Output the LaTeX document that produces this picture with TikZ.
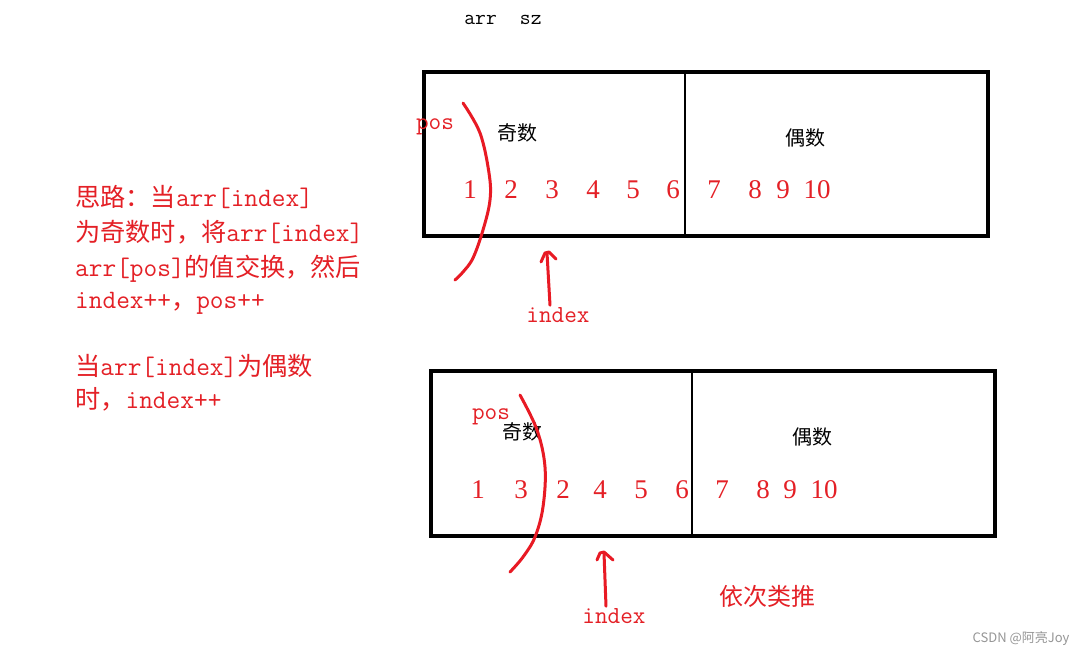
\documentclass[tikz,border=0pt]{standalone}
\usepackage{fontspec}
\setmainfont{Liberation Serif}
\setmonofont{Latin Modern Mono}
\newfontfamily\cjk{Noto Sans CJK SC}
\definecolor{myred}{RGB}{228,32,38}
\definecolor{penred}{RGB}{232,26,36}
\definecolor{wmgray}{RGB}{150,150,150}
\newcommand{\zh}[1]{{\cjk\fontsize{25.2}{26}\selectfont #1}}
\begin{document}
\begin{tikzpicture}[x=1pt,y=-1pt,
  boxline/.style={line width=3.2pt, draw=black},
  divline/.style={line width=2.6pt, draw=black},
  pen/.style={line width=3pt, draw=penred, line cap=round, line join=round},
  note/.style={text=myred, anchor=base west, inner sep=0pt, font=\fontsize{26.6}{27}\selectfont\ttfamily},
  num/.style={text=myred, inner sep=0pt, font=\fontsize{27}{28}\selectfont},
  lbl/.style={text=black, inner sep=0pt, font=\cjk\fontsize{20}{22}\selectfont},
  ptr/.style={text=myred, inner sep=0pt, font=\fontsize{24.5}{26}\selectfont\ttfamily},
  top/.style={text=black, inner sep=0pt, font=\fontsize{21}{22}\selectfont\ttfamily}
]
\useasboundingbox (0,0) rectangle (1087,658);
\fill[white] (0,0) rectangle (1087,658);

% top label
\node[top] (arrsz) at (503,20) {arr\hspace{1.1em}sz};

% ---------- box 1 ----------
\draw[boxline] (424,72) rectangle (988,236);
\draw[divline] (685,72) -- (685,236);
\node[lbl] (odd1) at (517,133) {奇数};
\node[lbl] (even1) at (805,138) {偶数};
\foreach \v/\x [count=\i] in {1/470,2/511,3/552,4/593,5/633,6/673,7/714,8/755,9/783,10/817}
  \node[num] (a\i) at (\x,190) {\v};
\node[ptr] (pos1) at (435,127) {pos};
\draw[pen] plot[smooth, tension=0.6] coordinates {(463,103) (480,133) (489,173) (490,200) (483,230) (473,258) (463,272) (455,280)};
\node[ptr] (idx1) at (558,315) {index};
\coordinate (h1) at (547,253);
\draw[pen] (idx1.north -| 550,0) ++(0,-2) coordinate (s1) (s1) -- (h1);
\draw[pen] (541,262) -- (545,253) -- (549,252) -- (556,259);

% ---------- box 2 ----------
\draw[boxline] (431,371) rectangle (995,536);
\draw[divline] (692,371) -- (692,536);
\node[lbl] (odd2) at (522,432) {奇数};
\node[lbl] (even2) at (812,437) {偶数};
\foreach \v/\x [count=\i] in {1/478,3/521,2/563,4/600,5/641,6/682,7/722,8/763,9/790,10/824}
  \node[num] (b\i) at (\x,490) {\v};
\node[ptr] (pos2) at (491,417) {pos};
\draw[pen] plot[smooth, tension=0.6] coordinates {(520,395) (537,430) (545,467) (543,507) (535,537) (523,557) (510,572)};
\node[ptr] (idx2) at (614,616) {index};
\coordinate (h2) at (604,553);
\draw[pen] (idx2.north -| 606,0) ++(0,-2) coordinate (s2) (s2) -- (h2);
\draw[pen] (597,560) -- (600,553) -- (604,552) -- (613,560);

\node[text=myred, inner sep=0pt, font=\cjk\fontsize{24}{26}\selectfont] (yc) at (767,596) {依次类推};

% ---------- left notes ----------
\node[note] (l1) at (75,206) {\zh{思路：当}arr[index]};
\node[note] (l2) at (75,241) {\zh{为奇数时，将}arr[index]};
\node[note] (l3) at (75,276) {arr[pos]\zh{的值交换，然后}};
\node[note] (l4) at (75,308) {index++\zh{，}pos++};
\node[note] (l5) at (75,375) {\zh{当}arr[index]\zh{为偶数}};
\node[note] (l6) at (75,408) {\zh{时，}index++};

% watermark
\node[text=wmgray, inner sep=0pt, font=\cjk\fontsize{13}{14}\selectfont] (wm) at (1021,639) {CSDN @阿亮Joy};
\end{tikzpicture}
\end{document}
